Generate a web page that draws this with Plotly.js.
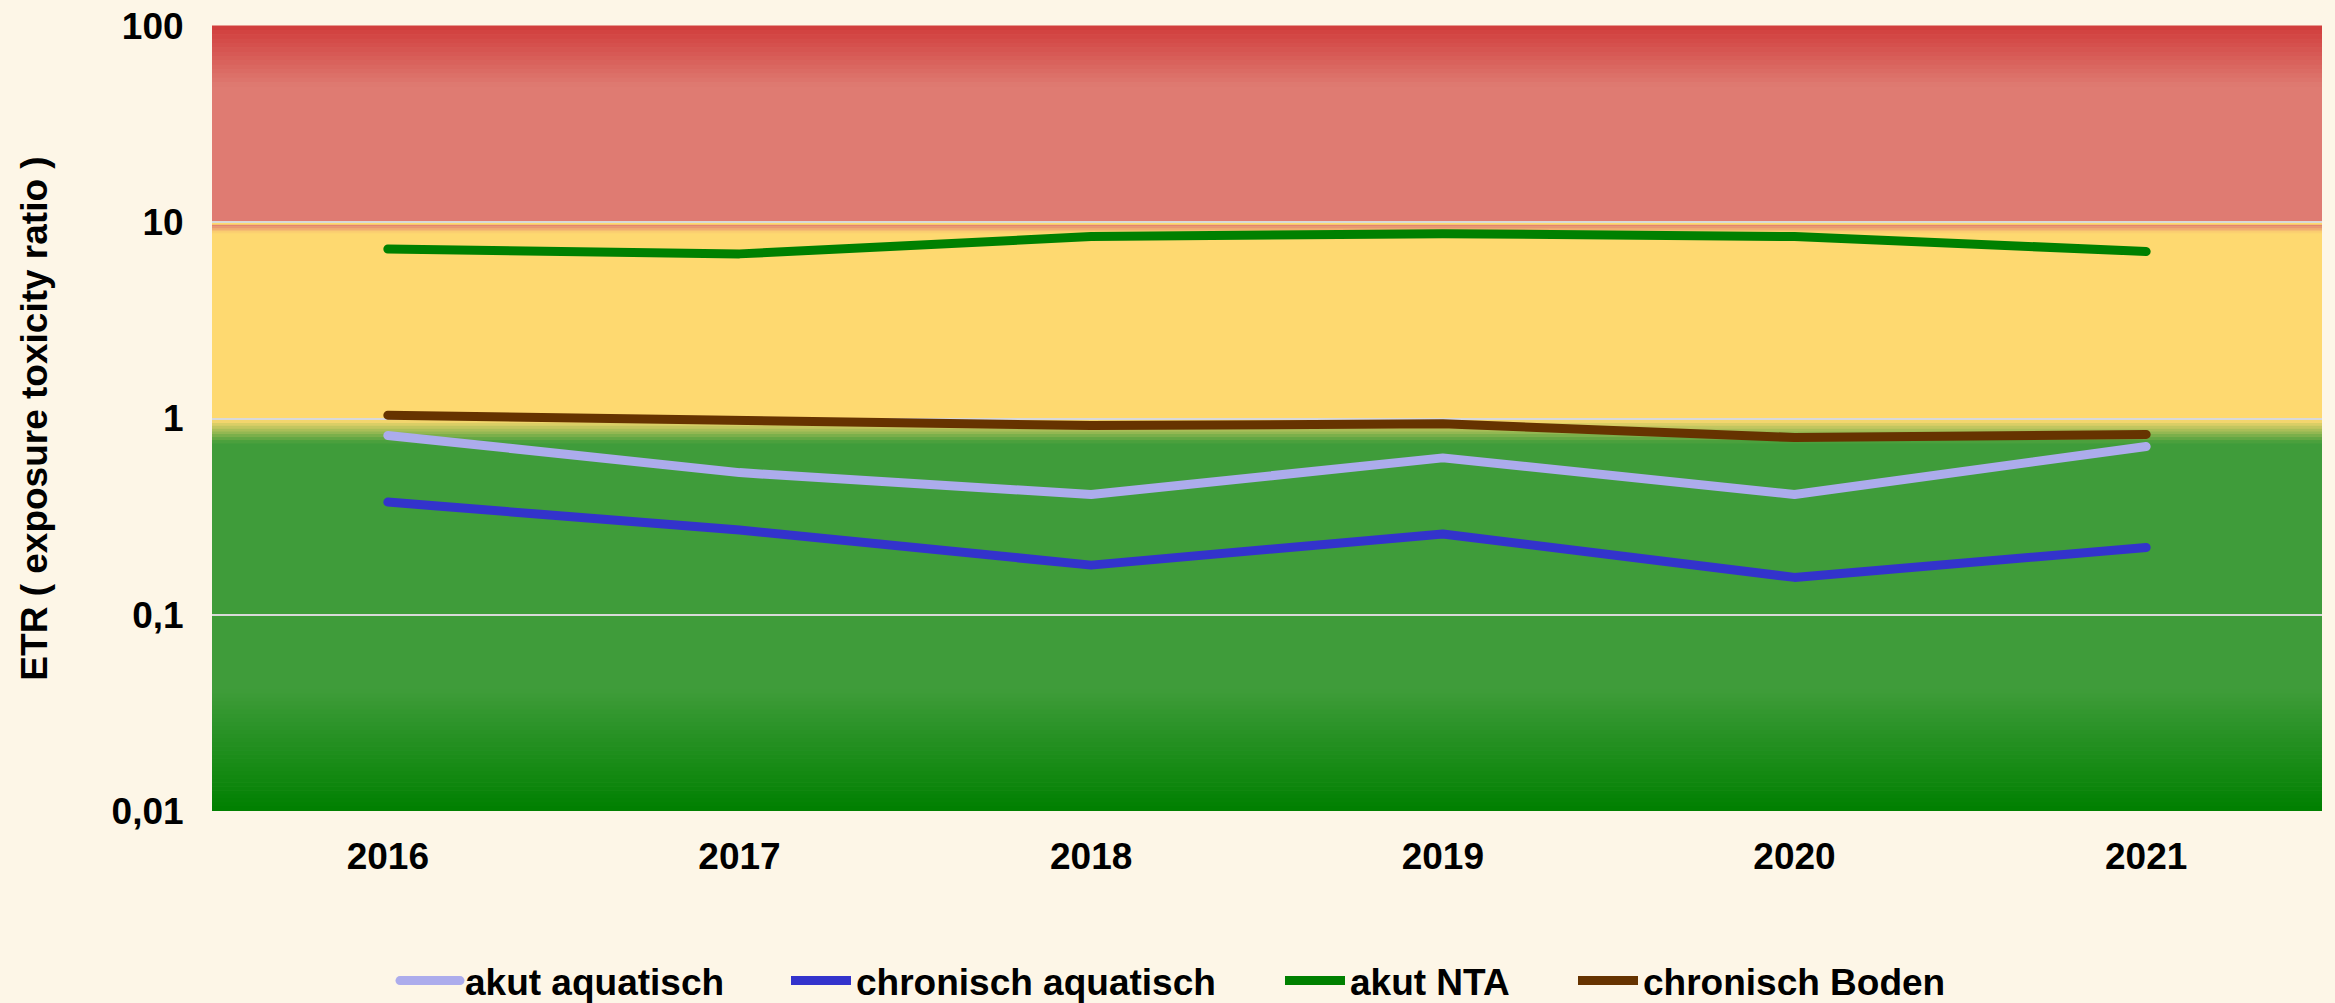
<!DOCTYPE html>
<html>
<head>
<meta charset="utf-8">
<script src="https://cdn.plot.ly/plotly-3.0.1.min.js"></script>
<style>
  html, body { margin: 0; padding: 0; background: #fdf6e7; }
  #chart { width: 2335px; height: 1003px; }
  .scatterlayer .js-line, .legend .js-line { stroke-linecap: round; stroke-linejoin: round; }
</style>
</head>
<body>
<div id="chart"></div>
<script>
// ---- data ----
const years = ['2016', '2017', '2018', '2019', '2020', '2021'];
const akutAquatisch = [0.82, 0.53, 0.41, 0.63, 0.41, 0.72];
const chronischAquatisch = [0.375, 0.27, 0.179, 0.258, 0.155, 0.22];
const akutNTA = [7.3, 6.9, 8.45, 8.75, 8.45, 7.1];
const chronischBoden = [1.04, 0.97, 0.92, 0.94, 0.80, 0.83];
const seriesNames = ['akut aquatisch', 'chronisch aquatisch', 'akut NTA', 'chronisch Boden'];
const seriesColors = ['#acacec', '#3333cc', '#008000', '#663300'];
const yTickVals = [0.01, 0.1, 1, 10, 100];
const yTickText = ['0,01', '0,1', '1', '10', '100'];
const yTitle = 'ETR ( exposure toxicity ratio )';

// ---- background bands (risk zones) ----
const logMin = -2, logMax = 2;
function frac(l) { return (l - logMin) / (logMax - logMin); }
function hex2rgb(h) { return [parseInt(h.slice(1,3),16), parseInt(h.slice(3,5),16), parseInt(h.slice(5,7),16)]; }
function mix(a, b, t) {
  const A = hex2rgb(a), B = hex2rgb(b);
  return 'rgb(' + A.map((v, i) => Math.round(v + (B[i] - v) * t)).join(',') + ')';
}
const shapes = [];
function band(l0, l1, color) {
  shapes.push({type: 'rect', layer: 'below', xref: 'x', yref: 'paper', x0: -0.5, x1: 5.5,
    y0: frac(l0), y1: frac(l1), fillcolor: color, line: {width: 0}});
}
function gradient(lTop, lBot, cTop, cBot, n) {
  for (let i = 0; i < n; i++) {
    const a = lTop + (lBot - lTop) * i / n;
    const b = lTop + (lBot - lTop) * (i + 1) / n;
    band(b, a + (a > b ? 0.002 : -0.002), mix(cTop, cBot, (i + 0.5) / n));
  }
}
const RED_TOP = '#d03c3b', RED = '#df7b72', YEL = '#fed970', GRN = '#3f9c3a', GRN_BOT = '#008000';
band(1, 2, RED);
band(0, 1, YEL);
band(-2, 0, GRN);
gradient(2, 1.69, RED_TOP, RED, 14);
gradient(0.985, 0.944, RED, YEL, 5);
gradient(-0.01, -0.127, YEL, GRN, 8);
gradient(-1.384, -2, GRN, GRN_BOT, 30);

// ---- traces ----
const legendIds = ['legend', 'legend2', 'legend3', 'legend4'];
const allSeries = [akutAquatisch, chronischAquatisch, akutNTA, chronischBoden];
const traces = allSeries.map((vals, i) => ({
  type: 'scatter', mode: 'lines', x: years, y: vals, name: seriesNames[i],
  legend: legendIds[i],
  line: {color: seriesColors[i], width: 9}, hoverinfo: 'x+y+name'
}));

const font = {family: 'Liberation Sans, Arial, sans-serif', size: 37, color: '#000000', weight: 700};

const plotLeft = 212, plotWidth = 2335 - 212 - 13;
const legendStarts = [395, 786, 1280, 1573];

const layout = {
  width: 2335, height: 1003,
  paper_bgcolor: '#fdf6e7',
  plot_bgcolor: 'rgba(0,0,0,0)',
  margin: {l: 212, r: 13, t: 26, b: 192, pad: 0, autoexpand: false},
  font: font,
  showlegend: true,
  xaxis: {
    type: 'category', range: [-0.5, 5.5], showgrid: false, zeroline: false,
    showline: false, ticks: 'outside', ticklen: 13, tickcolor: 'rgba(0,0,0,0)',
    tickfont: font, fixedrange: true
  },
  yaxis: {
    type: 'log', range: [logMin, logMax], tickvals: yTickVals, ticktext: yTickText,
    showgrid: true, gridcolor: '#d9d9d9', gridwidth: 2, zeroline: false, showline: false,
    ticks: 'outside', ticklen: 20, tickcolor: 'rgba(0,0,0,0)', tickfont: font,
    title: {text: yTitle, font: font, standoff: 52}, automargin: false, fixedrange: true
  },
  shapes: shapes
};
legendIds.forEach((id, i) => {
  layout[id] = {
    orientation: 'h', x: (legendStarts[i] - plotLeft) / plotWidth, xanchor: 'left',
    y: -0.2166, yanchor: 'middle', font: font, itemwidth: 60,
    bgcolor: 'rgba(0,0,0,0)', borderwidth: 0
  };
});

Plotly.newPlot('chart', traces, layout, {displayModeBar: false, staticPlot: true});
</script>
</body>
</html>
